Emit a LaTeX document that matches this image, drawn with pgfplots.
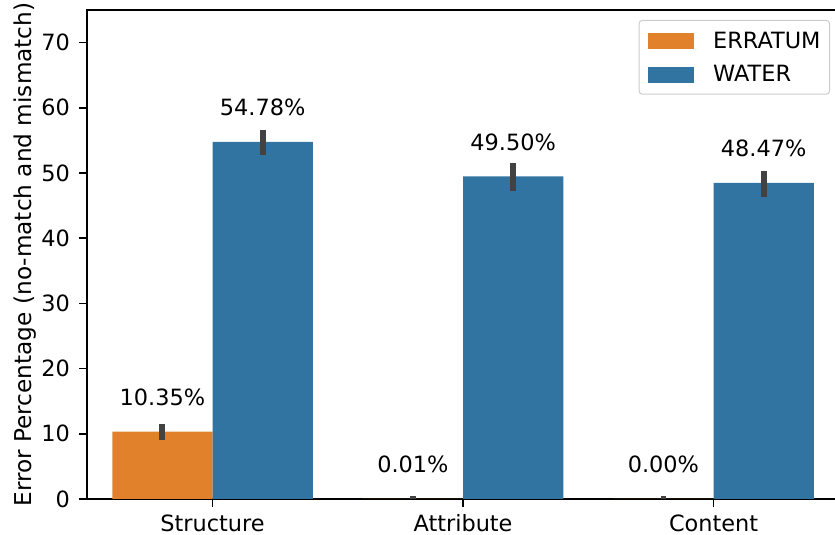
\documentclass[border=0pt]{standalone}
\usepackage{pgfplots}
\pgfplotsset{compat=1.18}
\usepackage{pgfplotstable}
\usepackage{fontspec}
\setmainfont{DejaVu Sans}
\newcommand\fs{\fontsize{22.4}{26}\selectfont}
\newcommand\fl{\fontsize{23.2}{27}\selectfont}
\definecolor{erratum}{HTML}{E1812C}
\definecolor{water}{HTML}{3274A1}
\definecolor{errgray}{HTML}{424242}

% x = category (0 Structure, 1 Attribute, 2 Content), y = mean, ep/em = error bar up/down
\pgfplotstableread{
x y ep em
0 10.35 1.15 1.35
1 0.01 0.45 0.01
2 0.00 0.45 0.00
}\erratumdata
\pgfplotstableread{
x y ep em
0 54.78 1.8 2.0
1 49.50 2.1 2.3
2 48.47 1.9 2.2
}\waterdata

\begin{document}
\begin{tikzpicture}
\begin{axis}[
  name=ax,
  scale only axis,
  width=751.5pt, height=489pt,
  xmin=-0.5, xmax=2.5,
  ymin=0, ymax=75,
  ybar=0pt,
  bar width=0.4,
  xtick={0,1,2},
  xticklabels={Structure,Attribute,Content},
  ytick={0,10,...,70},
  xtick pos=bottom, ytick pos=left,
  tick align=outside,
  major tick length=8pt,
  every tick/.style={black, line width=1.6pt},
  axis line style={line width=1.6pt},
  ticklabel style={font=\fs},
  xticklabel style={text height=16.5pt, text depth=4.5pt, yshift=-4pt},
  yticklabel style={xshift=-6pt},
  /pgf/number format/assume math mode=true,
  ylabel={Error Percentage (no-match and mismatch)},
  ylabel style={font=\fl, at={(rel axis cs:0,0.5)}, anchor=base, yshift=56pt},
  legend cell align=left,
  legend image code/.code={\fill[#1, sharp corners] (0pt,-9pt) rectangle (46pt,7pt);},
  legend style={at={(1,1)}, anchor=north east, xshift=-8.8pt, yshift=-10pt,
    draw=black!20, line width=1pt, rounded corners=3pt, fill=white,
    font=\fs, inner xsep=9pt, inner ysep=11.5pt, row sep=16.3pt,
    nodes={inner sep=0pt, text depth=0pt},
    /tikz/every odd column/.append style={column sep=19pt}},
  point meta=y,
  nodes near coords={\pgfmathprintnumber[fixed,fixed zerofill,precision=2,assume math mode=true]{\pgfplotspointmeta}\%},
  every node near coord/.append style={anchor=center, yshift=34.3pt, font=\fs, text=black},
  error bars/y dir=both,
  error bars/y explicit,
  error bars/error mark=none,
  error bars/error bar style={line width=5.9pt, color=errgray},
]
\addplot[fill=erratum, draw=none, bar shift=-0.2]
  table[x=x, y=y, y error plus=ep, y error minus=em] {\erratumdata};
\addlegendentry{ERRATUM}
\addplot[fill=water, draw=none, bar shift=0.2]
  table[x=x, y=y, y error plus=ep, y error minus=em] {\waterdata};
\addlegendentry{WATER}
\end{axis}
\pgfresetboundingbox
\path[use as bounding box] ([xshift=-87.3pt, yshift=-36pt]ax.south west)
  rectangle ([xshift=-3.8pt, yshift=10pt]ax.north east);
\end{tikzpicture}
\end{document}
